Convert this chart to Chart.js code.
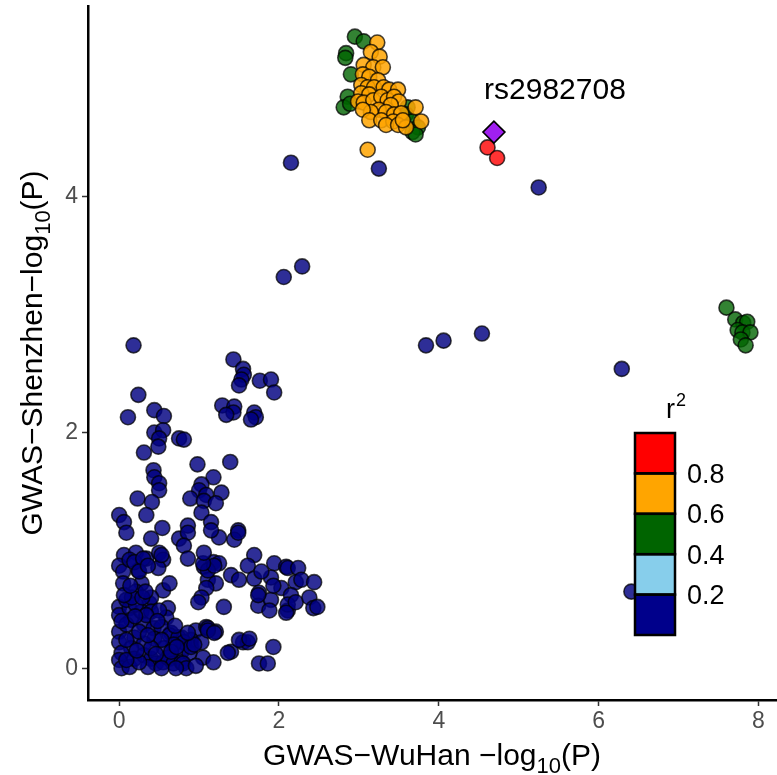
<!DOCTYPE html>
<html><head><meta charset="utf-8">
<script src="https://cdn.jsdelivr.net/npm/chart.js@4.4.0/dist/chart.umd.min.js"></script>
<style>html,body{margin:0;padding:0;background:#fff;}canvas{display:block;}</style>
</head><body>
<canvas id="c" width="777" height="775"></canvas>
<script>
// ---- tick labels / axis ----
const xTickValues = [0, 2, 4, 6, 8];
const yTickValues = [0, 2, 4];
const xTitleParts = ['GWAS\u2212WuHan \u2212log', '10', '(P)'];
const yTitleParts = ['GWAS\u2212Shenzhen\u2212log', '10', '(P)'];
const legendTitle = ['r', '2'];
const r2Breaks = ['0.2', '0.4', '0.6', '0.8'];
const r2Colors = ['#00008B', '#87CEEB', '#006400', '#FFA500', '#FF0000']; // bottom -> top
const leadLabel = 'rs2982708';

// ---- data: [WuHan -log10P, Shenzhen -log10P] ----
const leadSnp = [[4.69, 4.55]];
const redPoints = [[4.61, 4.42], [4.73, 4.33]];
const orangePoints = [
  [3.23,5.31],[3.15,5.23],[3.26,5.19],[3.06,5.12],[3.18,5.10],[3.30,5.10],[3.05,5.04],[3.13,5.02],
  [3.24,4.99],[3.03,4.95],[3.11,4.93],[3.19,4.93],[3.03,4.88],[3.13,4.87],[3.31,4.93],[3.38,4.91],
  [3.49,4.91],[2.99,4.81],[3.06,4.80],[3.18,4.82],[3.28,4.85],[3.36,4.82],[3.44,4.85],[3.50,4.81],
  [3.40,4.78],[3.25,4.74],[3.15,4.72],[3.05,4.74],[3.34,4.72],[3.44,4.70],[3.53,4.71],[3.71,4.76],
  [3.78,4.64],[3.13,4.65],[3.28,4.65],[3.43,4.64],[3.34,4.61],[3.49,4.61],[3.59,4.59],[3.55,4.65],
  [3.11,4.40]
];
const greenPoints = [
  [2.95,5.36],[3.06,5.32],[2.84,5.22],[2.83,5.18],[2.90,5.04],[2.86,4.85],[2.81,4.76],[2.89,4.79],
  [3.61,4.76],[3.59,4.70],[3.67,4.64],[3.74,4.59],[3.67,4.55],[3.71,4.53],
  [7.60,3.06],[7.71,2.96],[7.81,2.93],[7.86,2.94],[7.74,2.87],[7.80,2.85],[7.90,2.85],[7.78,2.79],[7.84,2.74]
];
const bluePoints = [
  [2.15,4.29],[3.25,4.24],[5.25,4.08],[2.06,3.32],[2.29,3.41],[3.84,2.74],[4.06,2.78],[4.54,2.84],
  [6.29,2.54],[6.41,0.65],[0.18,2.74],
  [1.43,2.62],[1.55,2.54],[1.56,2.49],[1.53,2.45],[1.50,2.40],[1.76,2.44],[1.90,2.45],[1.94,2.34],
  [0.24,2.32],[1.29,2.23],[1.44,2.22],[1.43,2.17],[1.34,2.15],[1.69,2.17],[1.71,2.13],[1.65,2.11],
  [0.44,2.19],[0.56,2.14],[0.11,2.13],[0.44,2.00],[0.55,2.02],[0.50,1.95],[0.49,1.88],[0.75,1.95],
  [0.81,1.94],[0.31,1.83],[0.98,1.73],[1.39,1.75],[0.43,1.68],[0.44,1.62],[0.50,1.57],[0.50,1.51],
  [1.18,1.62],[1.03,1.56],[1.00,1.51],[1.09,1.47],[1.28,1.49],[0.89,1.44],[1.06,1.42],[1.21,1.40],
  [0.23,1.44],[0.41,1.41],[0.34,1.30],[1.03,1.32],[1.15,1.24],[0.00,1.30],[0.06,1.24],[0.54,1.19],
  [0.86,1.21],[1.49,1.17],
  [0.09,1.15],[0.40,1.10],[0.75,1.10],[0.86,1.15],[0.81,1.04],[1.25,1.11],[1.44,1.09],[1.15,1.17],
  [0.06,0.96],[0.21,0.98],[0.34,0.93],[0.50,0.98],[0.55,0.92],[0.00,0.87],[0.05,0.82],[0.24,0.83],
  [0.49,0.85],[0.86,0.93],[1.06,0.86],[1.18,0.90],[1.25,0.89],[1.11,0.75],[1.21,0.72],[1.09,0.68],
  [1.03,0.60],[1.31,0.52],[1.40,0.79],[1.50,0.75],[1.69,0.96],[1.61,0.87],[1.69,0.76],[1.75,0.64],
  [1.74,0.53],[1.94,0.89],[1.90,0.77],[2.03,0.68],[1.90,0.58],[2.09,0.86],[2.11,0.49],[0.05,0.72],
  [0.28,0.72],[0.55,0.66],[0.63,0.72],[0.38,0.55],[0.61,0.51],[0.59,0.43],[0.96,0.32],[1.09,0.35],
  [1.21,0.31],[1.55,0.22],[1.61,0.22],[1.40,0.14],[1.93,0.18],[1.75,0.04],[1.86,0.04],[1.05,0.09],
  [0.90,0.24],[0.78,0.26],[0.65,0.30],[0.78,0.14],[0.63,0.08],
  [0.13,0.92],[0.19,0.90],[0.30,0.93],[0.25,0.82],[0.36,0.87],[0.53,0.96],[0.21,0.65],[0.40,0.60],
  [0.00,0.52],[0.00,0.45],[0.13,0.51],[0.15,0.41],[0.28,0.48],[0.40,0.48],[0.50,0.49],[0.31,0.37],
  [0.19,0.26],[0.00,0.31],[0.00,0.22],[0.43,0.34],[0.53,0.35],[0.44,0.25],[0.63,0.28],[0.74,0.26],
  [0.81,0.22],[0.68,0.20],[0.56,0.17],[0.31,0.21],[0.15,0.17],[0.03,0.13],[0.00,0.07],[0.03,0.00],
  [0.13,0.01],[0.19,0.08],[0.31,0.11],[0.40,0.08],[0.46,0.04],[0.36,0.01],[0.55,0.05],[0.61,0.09],
  [0.68,0.04],[0.78,0.05],[0.88,0.13],[0.90,0.18],[1.18,0.05],[1.03,0.22],[1.11,0.34],[1.36,0.13],
  [1.50,0.24],[1.63,0.25],[0.99,0.56],[1.11,0.83],[1.19,0.87],[1.05,0.89],[1.06,0.98],
  [1.49,1.15],[1.78,0.82],[2.11,0.85],[2.24,0.85],[1.93,0.70],[2.21,0.73],[2.28,0.75],[2.44,0.73],
  [1.74,0.62],[2.15,0.62],[2.11,0.54],[2.21,0.56],[2.38,0.60],[2.43,0.51],[2.48,0.52],[1.88,0.49],
  [2.09,0.47],[1.11,0.32],[1.19,0.30],[0.94,0.20],[0.80,0.04],
  [0.09,0.58],[0.21,0.54],[0.34,0.45],[0.09,0.37],[0.25,0.31],[0.53,0.24],[0.09,0.24],[0.40,0.17],
  [0.65,0.14],[0.25,0.05],[0.09,0.07],[0.53,0.00],[0.84,0.00],[0.71,0.00],[0.96,0.02],
  [0.03,0.40],[0.16,0.60],[0.29,0.60],[0.20,0.44],[0.36,0.28],[0.48,0.40],[0.70,0.36],[0.46,0.12],
  [0.22,0.15],[0.06,0.62],[0.14,0.70],[0.33,0.65],[0.72,0.18],[0.86,0.30]
];

const toXY = arr => arr.map(p => ({x: p[0], y: p[1]}));
const FONT = '"Liberation Sans", Arial, sans-serif';

function ptDataset(label, pts, fill) {
  return {label, data: toXY(pts), pointRadius: 7.5, pointHoverRadius: 7.5,
    backgroundColor: fill, borderColor: 'rgba(0,0,0,0.72)', borderWidth: 1.6};
}

function drawParts(ctx, parts, size, subSize) {
  const widths = parts.map((t, i) => {
    ctx.font = (i === 1 ? subSize : size) + 'px ' + FONT;
    return ctx.measureText(t).width;
  });
  const total = widths.reduce((a, b) => a + b, 0);
  let x = -total / 2;
  parts.forEach((t, i) => {
    ctx.font = (i === 1 ? subSize : size) + 'px ' + FONT;
    ctx.fillText(t, x, i === 1 ? size * 0.25 : 0);
    x += widths[i];
  });
  return total;
}

const overlay = {
  id: 'overlay',
  afterDraw(chart) {
    const ctx = chart.ctx, ca = chart.chartArea;
    const xs = chart.scales.x, ys = chart.scales.y;
    ctx.save();
    ctx.fillStyle = '#000';
    ctx.textAlign = 'left';
    ctx.textBaseline = 'alphabetic';
    // x title
    ctx.save();
    ctx.translate((ca.left + ca.right) / 2, 765);
    drawParts(ctx, xTitleParts, 30, 22);
    ctx.restore();
    // y title
    ctx.save();
    ctx.translate(42, (ca.top + ca.bottom) / 2);
    ctx.rotate(-Math.PI / 2);
    drawParts(ctx, yTitleParts, 30, 22);
    ctx.restore();
    // lead label
    const lx = xs.getPixelForValue(leadSnp[0][0]), ly = ys.getPixelForValue(leadSnp[0][1]);
    ctx.font = '30px ' + FONT;
    ctx.textAlign = 'center';
    ctx.fillText(leadLabel, lx + 61, ly - 33);
    // legend
    const bx = 635, bw = 40, by = 433, bh = 40.4;
    for (let i = 0; i < r2Colors.length; i++) {
      const top = by + bh * (r2Colors.length - 1 - i);
      ctx.fillStyle = r2Colors[i];
      ctx.fillRect(bx, top, bw, bh);
    }
    ctx.strokeStyle = '#000';
    ctx.lineWidth = 2.5;
    for (let i = 0; i < r2Colors.length; i++) {
      ctx.strokeRect(bx, by + bh * i, bw, bh);
    }
    ctx.fillStyle = '#000';
    ctx.textAlign = 'left';
    ctx.textBaseline = 'middle';
    ctx.font = '27px ' + FONT;
    r2Breaks.forEach((t, i) => {
      const yy = by + bh * (r2Colors.length - 1 - i);
      ctx.fillText(t, 687, yy + 2);
    });
    ctx.textBaseline = 'alphabetic';
    ctx.font = '27px ' + FONT;
    ctx.fillText(legendTitle[0], 666, 418);
    ctx.font = '18px ' + FONT;
    ctx.fillText(legendTitle[1], 676, 406);
    ctx.restore();
  }
};

const noPadX = s => { s.height = 75; s.paddingLeft = 0; s.paddingRight = 0; };
const noPadY = s => { s.width = 88; s.paddingTop = 0; s.paddingBottom = 0; };

new Chart(document.getElementById('c'), {
  type: 'scatter',
  data: {datasets: [
    {label: 'lead', data: toXY(leadSnp), pointStyle: 'rectRot', pointRadius: 11, pointHoverRadius: 11,
     backgroundColor: '#A020F0', borderColor: '#000', borderWidth: 1.6},
    ptDataset('0.8-1.0', redPoints, 'rgba(255,0,0,0.8)'),
    ptDataset('0.6-0.8', orangePoints, 'rgba(255,165,0,0.85)'),
    ptDataset('0.4-0.6', greenPoints, 'rgba(0,100,0,0.8)'),
    ptDataset('0.0-0.2', bluePoints, 'rgba(0,0,128,0.82)')
  ]},
  options: {
    responsive: false, animation: false, devicePixelRatio: 1,
    layout: {autoPadding: false, padding: {top: 6, right: 1, left: 0, bottom: 0}},
    plugins: {legend: {display: false}, tooltip: {enabled: false}},
    events: [],
    scales: {
      x: {type: 'linear', min: -0.39, max: 8.22,
        afterBuildTicks: s => { s.ticks = xTickValues.map(v => ({value: v})); },
        afterFit: noPadX,
        ticks: {font: {size: 23, family: FONT}, color: '#4D4D4D', padding: 2, maxRotation: 0},
        grid: {drawOnChartArea: false, tickLength: 6, tickColor: '#333', tickWidth: 1.5},
        border: {color: '#000', width: 2.5}},
      y: {type: 'linear', min: -0.27, max: 5.62,
        afterBuildTicks: s => { s.ticks = yTickValues.map(v => ({value: v})); },
        afterFit: noPadY,
        ticks: {font: {size: 23, family: FONT}, color: '#4D4D4D', padding: 4},
        grid: {drawOnChartArea: false, tickLength: 6, tickColor: '#333', tickWidth: 1.5},
        border: {color: '#000', width: 2.5}}
    }
  },
  plugins: [overlay]
});
</script>
</body></html>
